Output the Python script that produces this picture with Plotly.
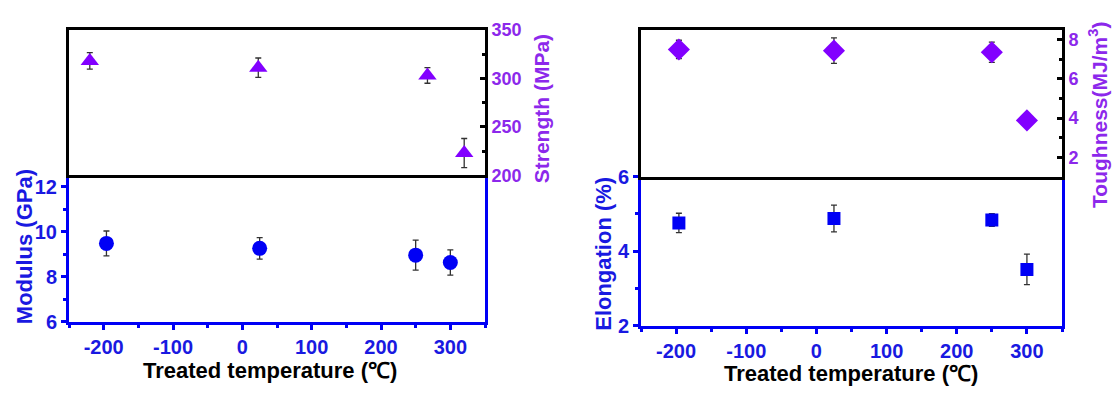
import plotly.graph_objects as go

# ---- data ----
temp = [-196, 25, 250, 300]
strength_temp = [-220, 23, 267, 320]

modulus = [9.48, 9.26, 8.96, 8.63]
modulus_err = [0.55, 0.48, 0.67, 0.56]

strength = [318, 311, 303, 223]
strength_err = [8.5, 10, 8, 15]

elongation = [4.76, 4.88, 4.84, 3.51]
elongation_err = [0.26, 0.36, 0.17, 0.41]

toughness = [7.50, 7.44, 7.36, 3.88]
toughness_err = [0.47, 0.65, 0.52, 0.18]

x_ticks = [-200, -100, 0, 100, 200, 300]
x_tick_text = ["-200", "-100", "0", "100", "200", "300"]

BLUE = "rgb(0,0,245)"
BLUE_TXT = "rgb(25,25,225)"
PURPLE = "rgb(130,0,255)"
PURPLE_TXT = "rgb(140,40,235)"
FONT = "Arial, Liberation Sans, sans-serif"

W, H = 1118, 398


def px(v):
    return v / W


def py(v):
    return 1 - v / H


err_style = dict(type="data", color="rgb(50,50,50)", thickness=1.3, width=3)

fig = go.Figure()

# left panel: modulus (bottom) and strength (top)
fig.add_trace(go.Scatter(
    x=temp, y=modulus, mode="markers", xaxis="x", yaxis="y",
    marker=dict(symbol="circle", size=15, color=BLUE),
    error_y=dict(array=modulus_err, **err_style), showlegend=False))
fig.add_trace(go.Scatter(
    x=strength_temp, y=strength, mode="markers", xaxis="x2", yaxis="y2",
    marker=dict(symbol="triangle-up", size=16, color=PURPLE),
    error_y=dict(array=strength_err, **err_style), showlegend=False))

# right panel: elongation (bottom) and toughness (top)
fig.add_trace(go.Scatter(
    x=temp, y=elongation, mode="markers", xaxis="x3", yaxis="y3",
    marker=dict(symbol="square", size=13, color=BLUE),
    error_y=dict(array=elongation_err, **err_style), showlegend=False))
fig.add_trace(go.Scatter(
    x=temp, y=toughness, mode="markers", xaxis="x4", yaxis="y4",
    marker=dict(symbol="diamond", size=17, color=PURPLE),
    error_y=dict(array=toughness_err, **err_style), showlegend=False))

tick_font_blue = dict(family=FONT, size=20, color=BLUE_TXT, weight="bold")
tick_font_purple = dict(family=FONT, size=18, color=PURPLE_TXT, weight="bold")

L_DOM = [px(69), px(485)]
R_DOM = [px(641), px(1062)]
L_BOT = [py(329), py(174)]
L_TOP = [py(174), py(20)]
R_BOT = [py(333), py(175.5)]
R_TOP = [py(175.5), py(20)]


def bottom_x(domain, anchor):
    return dict(
        domain=domain, anchor=anchor, range=[-250, 350],
        tickvals=x_ticks, ticktext=x_tick_text, ticks="outside", ticklen=5,
        tickwidth=2.5, tickcolor=BLUE, showline=True, linecolor=BLUE,
        linewidth=3, showgrid=False, zeroline=False, tickfont=tick_font_blue,
        minor=dict(dtick=50, tick0=0, ticks="outside", ticklen=3,
                   tickwidth=2.5, tickcolor=BLUE),
    )


def top_x(domain, anchor):
    return dict(
        domain=domain, anchor=anchor, range=[-250, 350],
        showticklabels=False, ticks="", showline=True, mirror=True,
        linecolor="black", linewidth=3, showgrid=False, zeroline=False,
    )


fig.update_layout(
    width=W, height=H, margin=dict(l=0, r=0, t=0, b=0),
    paper_bgcolor="white", plot_bgcolor="white",
    font=dict(family=FONT),
    xaxis=bottom_x(L_DOM, "y"),
    xaxis2=top_x(L_DOM, "y2"),
    xaxis3=bottom_x(R_DOM, "y3"),
    xaxis4=top_x(R_DOM, "y4"),
    yaxis=dict(
        domain=L_BOT, anchor="x", range=[6, 12.5], tickvals=[6, 8, 10, 12],
        ticks="outside", ticklen=5, tickwidth=2.5, tickcolor=BLUE,
        showline=True, mirror=True, linecolor=BLUE, linewidth=3,
        showgrid=False, zeroline=False, tickfont=tick_font_blue,
        minor=dict(dtick=1, tick0=6, ticks="outside", ticklen=3,
                   tickwidth=2.5, tickcolor=BLUE),
    ),
    yaxis2=dict(
        domain=L_TOP, anchor="x2", side="right", range=[200, 350],
        tickvals=[200, 250, 300, 350], ticks="inside", ticklen=5,
        tickwidth=2.5, tickcolor="black", showline=True, mirror=True,
        linecolor="black", linewidth=3, showgrid=False, zeroline=False,
        tickfont=tick_font_purple,
        minor=dict(dtick=25, tick0=200, ticks="inside", ticklen=3,
                   tickwidth=2.5, tickcolor="black"),
    ),
    yaxis3=dict(
        domain=R_BOT, anchor="x3", range=[2, 6], tickvals=[2, 4, 6],
        ticks="outside", ticklen=5, tickwidth=2.5, tickcolor=BLUE,
        showline=True, mirror=True, linecolor=BLUE, linewidth=3,
        showgrid=False, zeroline=False, tickfont=tick_font_blue,
        minor=dict(dtick=1, tick0=2, ticks="outside", ticklen=3,
                   tickwidth=2.5, tickcolor=BLUE),
    ),
    yaxis4=dict(
        domain=R_TOP, anchor="x4", side="right", range=[1, 8.5],
        tickvals=[2, 4, 6, 8], ticks="inside", ticklen=5, tickwidth=2.5,
        tickcolor="black", showline=True, mirror=True, linecolor="black",
        linewidth=3, showgrid=False, zeroline=False,
        tickfont=tick_font_purple,
        minor=dict(dtick=1, tick0=1, ticks="inside", ticklen=3,
                   tickwidth=2.5, tickcolor="black"),
    ),
)

title_blue = dict(family=FONT, size=22, color=BLUE_TXT, weight="bold")
title_purple = dict(family=FONT, size=21, color=PURPLE_TXT, weight="bold")
title_black = dict(family=FONT, size=22, color="black", weight="bold")

annotations = [
    dict(text="Modulus (GPa)", x=px(24), y=py(250), textangle=-90,
         font=title_blue),
    dict(text="Strength (MPa)", x=px(541), y=py(104), textangle=-90,
         font=title_purple),
    dict(text="Treated temperature (℃)", x=px(270), y=py(381),
         font=title_black),
    dict(text="Elongation (%)", x=px(604), y=py(257), textangle=-90,
         font=title_blue),
    dict(text="Toughness(MJ/m<sup>3</sup>)", x=px(1098), y=py(110),
         textangle=-90, font=title_purple),
    dict(text="Treated temperature (℃)", x=px(851), y=py(384),
         font=title_black),
]
for a in annotations:
    fig.add_annotation(xref="paper", yref="paper", showarrow=False,
                       xanchor="center", yanchor="middle", **a)

fig.write_html("out.html")
